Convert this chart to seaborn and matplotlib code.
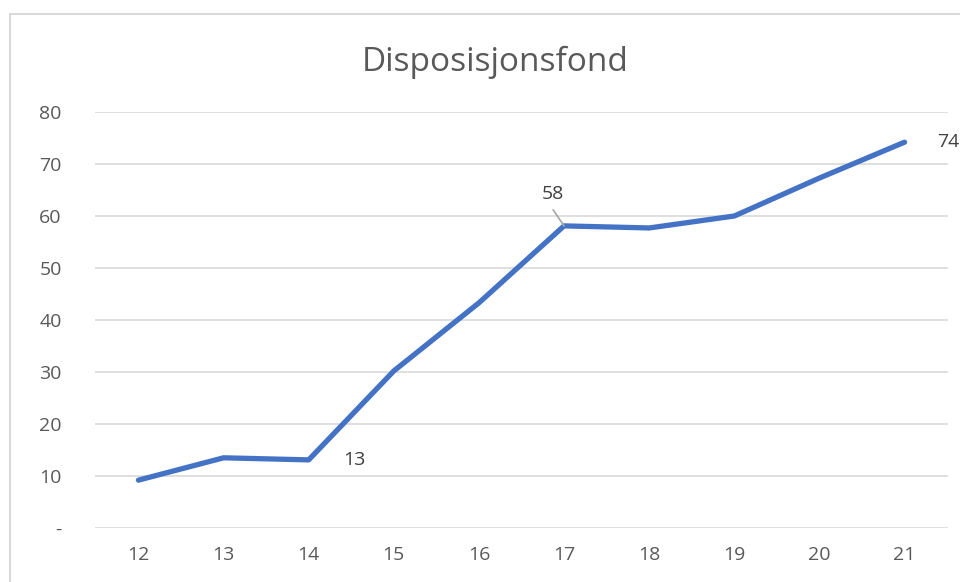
import matplotlib
matplotlib.use("Agg")
import matplotlib.pyplot as plt
import seaborn as sns
import pandas as pd
from matplotlib.patches import Rectangle

# data
years = [12, 13, 14, 15, 16, 17, 18, 19, 20, 21]
fond = [9.2, 13.5, 13.1, 30.2, 43.3, 58.1, 57.7, 60.0, 67.3, 74.2]
y_ticks = [0, 10, 20, 30, 40, 50, 60, 70, 80]
y_labels = ['-', '10', '20', '30', '40', '50', '60', '70', '80']

df = pd.DataFrame({'year': years, 'fond': fond})

sns.set_style('white')
plt.rcParams['font.family'] = ['Open Sans', 'DejaVu Sans']

fig = plt.figure(figsize=(9.6, 5.82), dpi=100)
ax = fig.add_axes([95 / 960, 54 / 582, 853 / 960, 416 / 582])

# light grey chart border (cut at right/bottom like the screenshot)
fig.patches.append(Rectangle((10 / 960, -0.05), 1.1, (582 - 14) / 582 + 0.05,
                             transform=fig.transFigure, fill=False,
                             edgecolor='#d9d9d9', linewidth=1.5))

sns.lineplot(data=df, x='year', y='fond', ax=ax, color='#4472C4', linewidth=3.8,
             solid_capstyle='round', solid_joinstyle='round')

ax.set_xlim(11.49, 21.51)
ax.set_ylim(0, 80)
ax.set_yticks(y_ticks)
ax.set_yticklabels(y_labels)
ax.set_xticks(years)
ax.set_xticklabels([str(y) for y in years])
ax.grid(axis='y', color='#d9d9d9', linewidth=1.2)
ax.set_axisbelow(True)
for s in ax.spines.values():
    s.set_visible(False)
ax.tick_params(axis='both', length=0, labelsize=14, labelcolor='#595959')
ax.tick_params(axis='y', pad=24)
ax.tick_params(axis='x', pad=13)
ax.set_xlabel('')
ax.set_ylabel('')

fig.text(495 / 960, 1 - 62 / 582, 'Disposisjonsfond', ha='center', va='center',
         fontsize=24, color='#595959')

# data labels
ax.annotate('13', xy=(14, fond[2]), xytext=(14.4, fond[2]), ha='left', va='center',
            fontsize=14, color='#404040')
ax.annotate('58', xy=(17, fond[5]), xytext=(16.87, 64.2), ha='center', va='center',
            fontsize=14, color='#404040',
            arrowprops=dict(arrowstyle='-', color='#a6a6a6', lw=1.2, shrinkA=3, shrinkB=0,
                            relpos=(0.3, 0)))
ax.annotate('74', xy=(21, fond[9]), xytext=(21.38, fond[9]), ha='left', va='center',
            fontsize=14, color='#404040', annotation_clip=False)

fig.savefig('out.png', dpi=100)
